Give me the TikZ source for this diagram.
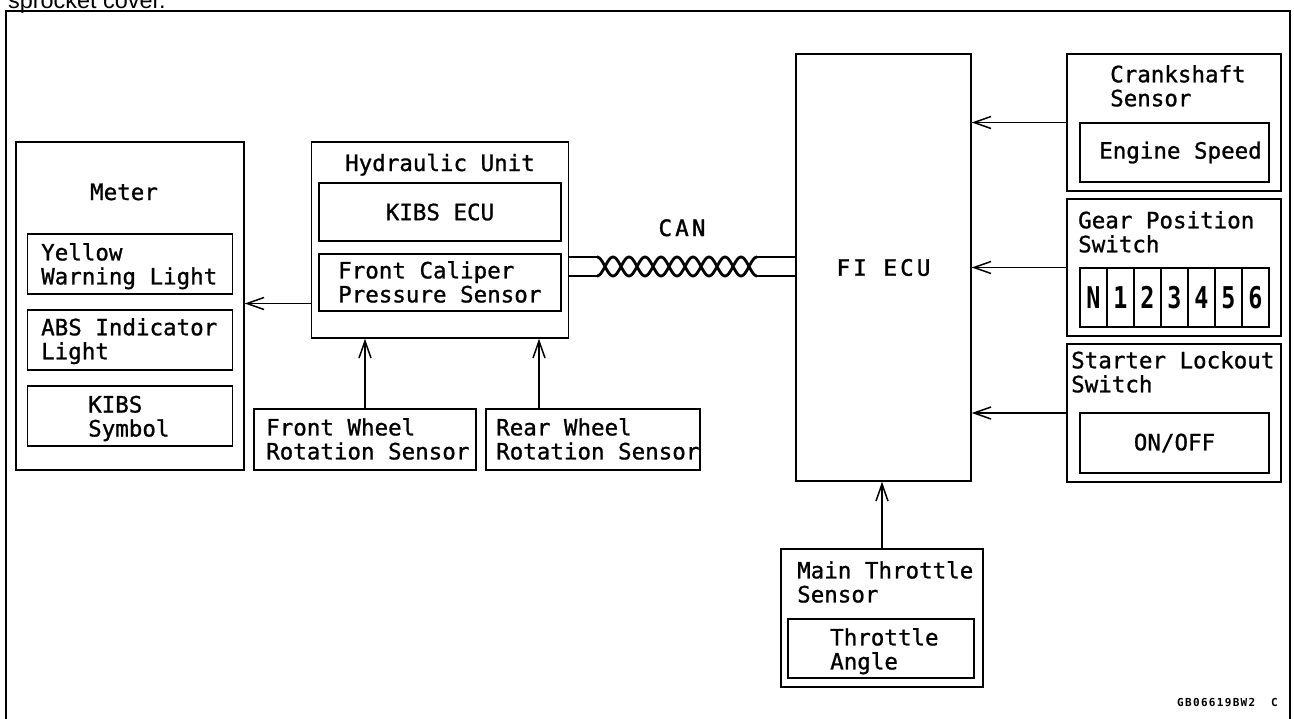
\documentclass[tikz,border=0pt]{standalone}
\usepackage{fontspec}
\usepackage{tikz}
\usetikzlibrary{arrows.meta,positioning}
\newfontfamily\gothic[FakeBold=1]{DejaVu Sans Mono}
\newfontfamily\gothicwide[LetterSpace=14,FakeBold=1.5]{DejaVu Sans Mono}
\newfontfamily\gothicnum[FakeStretch=0.78]{DejaVu Sans Mono Bold}
\newfontfamily\gothiccode[LetterSpace=12]{DejaVu Sans Mono Bold}
\newfontfamily\captfont{Liberation Sans}
\newcommand{\lblfont}{\gothic\fontsize{22.5}{24}\selectfont}

\begin{document}
\begin{tikzpicture}[
  x=1pt, y=-1pt,
  box/.style={draw, line width=1.5pt, inner sep=0pt, font=\lblfont},
  lbl/.style={inner sep=0pt, align=left, anchor=north west, font=\lblfont},
  arrow/.style={-{Straight Barb[length=17pt,width=12pt]}, line width=1.5pt},
  wire/.style={line width=1.5pt},
  helix/.style={line width=2.8pt},
  frame/.style={line width=2.8pt}
]
\clip (0,0) rectangle (1294,718);
\node[anchor=base west, inner sep=0pt, font=\captfont\fontsize{23.4}{26}\selectfont] (capt) at (8,8) {sprocket cover.};
\draw[frame] (6,11) rectangle (1290,740);

% meter
\node[box, minimum width=228, minimum height=328] (meter) at (130,306) {};
\node[inner sep=0pt, anchor=base, font=\lblfont] (meterlbl) at (124,200) {Meter};
\node[box, minimum width=205, minimum height=60] (yellow) at (130,264) {};
\node[box, minimum width=205, minimum height=60] (absind) at (130,340) {};
\node[box, minimum width=205, minimum height=60] (kibssym) at (130,416) {};
\node[lbl] (yellowlbl) at (41,243) {Yellow\\Warning Light};
\node[lbl] (abslbl) at (41,318) {ABS Indicator\\Light};
\node[lbl] (kibslbl) at (88,395.6) {KIBS\\Symbol};

% hydraulic unit
\node[box, minimum width=257, minimum height=196] (hu) at (440,240) {};
\node[inner sep=0pt, anchor=base, font=\lblfont] (hulbl) at (440,171) {Hydraulic Unit};
\node[box, minimum width=242, minimum height=58] (kibsecu) at (440,212) {KIBS ECU};
\node[box, minimum width=242, minimum height=57] (caliper) at (440,282.5) {};
\node[lbl] (caliperlbl) at (338,261) {Front Caliper\\Pressure Sensor};

\node[box, minimum width=222, minimum height=61] (fw) at (365,439.5) {};
\node[lbl] (fwlbl) at (266,418) {Front Wheel\\Rotation Sensor};
\node[box, minimum width=214, minimum height=61] (rw) at (593,439.5) {};
\node[lbl] (rwlbl) at (496,418) {Rear Wheel\\Rotation Sensor};

% fi ecu
\node[box, minimum width=175, minimum height=427, font=\gothicwide\fontsize{22.5}{24}\selectfont] (fi) at (883.5,267.5) {FI ECU};

% sensors on the right
\node[box, minimum width=214, minimum height=137] (crank) at (1174,122.5) {};
\node[lbl] (cranklbl) at (1110,65) {Crankshaft\\Sensor};
\node[box, minimum width=189, minimum height=59] (engspeed) at (1174.5,152.5) {\hspace*{12pt}Engine Speed};

\node[box, minimum width=214, minimum height=137] (gear) at (1174,267.5) {};
\node[lbl] (gearlbl) at (1078,211) {Gear Position\\Switch};
\foreach \d [count=\i from 0] in {N,1,2,3,4,5,6}
  \node[box, minimum width=27, minimum height=59, font=\gothicnum\fontsize{30}{30}\selectfont] (gp\i) at ({1093.5+27*\i},297.5) {\d};

\node[box, minimum width=214, minimum height=138] (starter) at (1174,413) {};
\node[lbl] (starterlbl) at (1071,351) {Starter Lockout\\Switch};
\node[box, minimum width=189, minimum height=60] (onoff) at (1174.5,443) {ON/OFF};

\node[box, minimum width=202, minimum height=138] (mts) at (882,618) {};
\node[lbl] (mtslbl) at (797,561) {Main Throttle\\Sensor};
\node[box, minimum width=186, minimum height=59] (angle) at (881,648.5) {};
\node[lbl] (anglelbl) at (830,628) {Throttle\\Angle};

% can twisted pair
\node[inner sep=0pt, anchor=base, font=\gothicwide\fontsize{22.5}{24}\selectfont] (can) at (682,236) {CAN};
\coordinate (twa) at (597,257);
\coordinate (twb) at (597,276);
\coordinate (twc) at (757,257);
\coordinate (twd) at (757,276);
\draw[wire] (hu.east |- twa) -- (twa);
\draw[wire] (hu.east |- twb) -- (twb);
\draw[wire] (twc) -- (fi.west |- twc);
\draw[wire] (twd) -- (fi.west |- twd);
\draw[helix] plot[domain=0:160, samples=161, smooth] ({597+\x},{266.5-9.5*cos(\x*11.25)});
\draw[helix] plot[domain=0:160, samples=161, smooth] ({597+\x},{266.5+9.5*cos(\x*11.25)});

\coordinate (metin) at ([yshift=2.5pt]meter.east);
\draw[arrow] (hu.west |- metin) -- (metin);
\draw[arrow] (fw.north) -- (fw.north |- hu.south);
\draw[arrow] ([xshift=-54pt]rw.north) -- ([xshift=-54pt]rw.north |- hu.south);
\draw[arrow] (crank.west) -- (fi.east |- crank.west);
\draw[arrow] (gear.west) -- (fi.east |- gear.west);
\draw[arrow] (starter.west) -- (fi.east |- starter.west);
\draw[arrow] (mts.north) -- (mts.north |- fi.south);

\node[anchor=base east, inner sep=0pt, font=\gothiccode\fontsize{11}{12}\selectfont] (code) at (1278,706) {GB06619BW2\ \ C};
\end{tikzpicture}
\end{document}
